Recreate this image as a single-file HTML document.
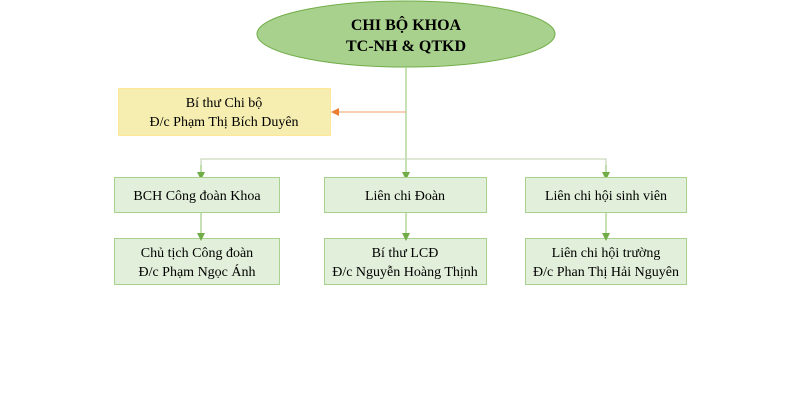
<!DOCTYPE html>
<html><head><meta charset="utf-8"><style>html,body{margin:0;padding:0;background:#fff;}svg{display:block}</style></head>
<body>
<svg width="789" height="409" viewBox="0 0 789 409" xmlns="http://www.w3.org/2000/svg" font-family="'Liberation Serif', serif" font-size="14" fill="#000">
<defs>
<marker id="g" markerWidth="8" markerHeight="8" refX="4" refY="4" orient="auto" markerUnits="userSpaceOnUse"><path d="M0,0 L8,4 L0,8 z" fill="#70ad47"/></marker>
<marker id="o" markerWidth="8" markerHeight="8" refX="4" refY="4" orient="auto" markerUnits="userSpaceOnUse"><path d="M0,0 L8,4 L0,8 z" fill="#ed7d31"/></marker>
</defs>
<ellipse cx="406" cy="34" rx="149" ry="33" fill="#a9d18e" stroke="#70ad47" stroke-width="1"/>
<text x="406" y="30" text-anchor="middle" font-weight="bold" font-size="16">CHI BỘ KHOA</text>
<text x="406" y="51" text-anchor="middle" font-weight="bold" font-size="16">TC-NH &amp; QTKD</text>
<line x1="406" y1="67" x2="406" y2="176" stroke="#a9d18e" stroke-width="1.3" marker-end="url(#g)"/>
<line x1="406" y1="112" x2="335" y2="112" stroke="#f4b183" stroke-width="1.3" marker-end="url(#o)"/>
<rect x="118.5" y="88.5" width="212" height="47" fill="#f6eeb0" stroke="#ffe699"/>
<text x="224" y="107" text-anchor="middle">Bí thư Chi bộ</text>
<text x="224" y="126" text-anchor="middle">Đ/c Phạm Thị Bích Duyên</text>
<polyline points="201,176 201,159 606,159 606,176" fill="none" stroke="#c9d9bc" stroke-width="1.3"/>
<line x1="201" y1="165" x2="201" y2="176" stroke="#a9d18e" stroke-width="1.3" marker-end="url(#g)"/>
<line x1="606" y1="165" x2="606" y2="176" stroke="#a9d18e" stroke-width="1.3" marker-end="url(#g)"/>
<g fill="#e2efda" stroke="#a9d18e">
<rect x="114.5" y="177.5" width="165" height="35"/>
<rect x="324.5" y="177.5" width="162" height="35"/>
<rect x="525.5" y="177.5" width="161" height="35"/>
<rect x="114.5" y="238.5" width="165" height="46"/>
<rect x="324.5" y="238.5" width="162" height="46"/>
<rect x="525.5" y="238.5" width="161" height="46"/>
</g>
<g stroke="#a9d18e" stroke-width="1.3">
<line x1="201" y1="213" x2="201" y2="237" marker-end="url(#g)"/>
<line x1="406" y1="213" x2="406" y2="237" marker-end="url(#g)"/>
<line x1="606" y1="213" x2="606" y2="237" marker-end="url(#g)"/>
</g>
<g text-anchor="middle">
<text x="197" y="200">BCH Công đoàn Khoa</text>
<text x="405" y="200">Liên chi Đoàn</text>
<text x="606" y="200">Liên chi hội sinh viên</text>
<text x="197" y="257">Chủ tịch Công đoàn</text>
<text x="197" y="276">Đ/c Phạm Ngọc Ánh</text>
<text x="405" y="257">Bí thư LCĐ</text>
<text x="405" y="276">Đ/c Nguyễn Hoàng Thịnh</text>
<text x="606" y="257">Liên chi hội trường</text>
<text x="606" y="276">Đ/c Phan Thị Hải Nguyên</text>
</g>
</svg>
</body></html>
